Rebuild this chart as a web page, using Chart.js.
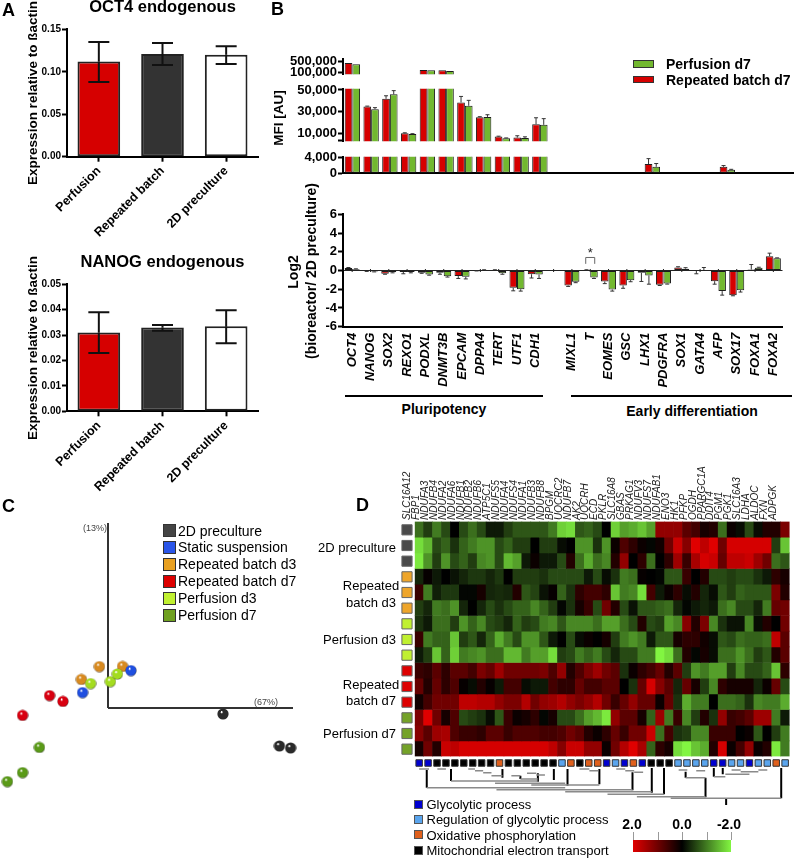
<!DOCTYPE html>
<html>
<head>
<meta charset="utf-8">
<script src="https://cdn.jsdelivr.net/npm/chart.js@4/dist/chart.umd.js"></script>
<style>
  html, body { margin: 0; background: #fff; }
  #page { position: relative; width: 795px; height: 859px; overflow: hidden; font-family: "Liberation Sans", Arial, sans-serif; color: #000; }
  #page canvas { position: absolute; }
  .txt { position: absolute; white-space: nowrap; line-height: 1; }
  .box { position: absolute; box-sizing: border-box; }
</style>
</head>
<body>
<div id="page"></div>
<script>
// panel A
const culture = ['Perfusion', 'Repeated batch', '2D preculture'];
const cultureFill = ['#d60000', '#333333', '#ffffff'];
const oct4 = [0.112, 0.121, 0.120];
const oct4Low = [0.088, 0.108, 0.109];
const oct4High = [0.135, 0.134, 0.130];
const nanog = [0.031, 0.033, 0.0335];
const nanogLow = [0.023, 0.0317, 0.0268];
const nanogHigh = [0.039, 0.034, 0.0398];

// panel B
const genes = ['OCT4', 'NANOG', 'SOX2', 'REXO1', 'PODXL', 'DNMT3B', 'EPCAM', 'DPPA4', 'TERT', 'UTF1', 'CDH1', '',
  'MIXL1', 'T', 'EOMES', 'GSC', 'LHX1', 'PDGFRA', 'SOX1', 'GATA4', 'AFP', 'SOX17', 'FOXA1', 'FOXA2'];
const mfiRed = [450000, 34900, 41900, 10200, 195000, 185000, 38500, 25000, 7200, 6300, 18600, null,
  0, 0, 0, 0, 2350, 0, 0, 0, 1650, 0, 0, 50];
const mfiGreen = [400000, 32400, 46000, 9600, 185000, 165000, 35500, 25300, 5800, 6000, 18000, null,
  0, 0, 0, 0, 1650, 0, 0, 0, 870, 0, 0, 20];
const mfiRedErr = [null, 35200, 44700, 10700, null, null, 44100, 25500, 7600, 8000, 24500, null,
  null, null, null, null, 3760, null, null, null, 1970, null, null, null];
const mfiGreenErr = [null, 33800, 49400, 9900, null, null, 40500, 27300, 6000, 7000, 23700, null,
  null, null, null, null, 2500, null, null, null, 1000, null, null, null];
const logRed = [0.28, -0.05, -0.35, -0.15, -0.25, -0.25, -0.6, -0.03, 0.05, -1.85, -0.4, null,
  -1.6, 0.05, -1.17, -1.6, -0.25, -1.53, 0.32, -0.05, -1.14, -2.63, 0.1, 1.53];
const logGreen = [0.14, -0.12, -0.2, -0.15, -0.43, -0.62, -0.68, 0.05, -0.3, -2, -0.43, null,
  -1.2, -0.75, -2.03, -1.03, -0.53, -1.4, 0.2, 0.05, -2.2, -2.1, 0.3, 1.32];
const logRedErr = [0.32, -0.1, -0.4, -0.35, -0.3, -0.4, -0.85, -0.05, 0.08, -2.17, -0.8, null,
  -1.7, 0.08, -1.4, -1.9, -1.17, -1.6, 0.4, -0.35, -1.46, -2.7, 0.64, 1.85];
const logGreenErr = [0.18, -0.15, -0.25, -0.25, -0.5, -0.7, -0.9, 0.08, -0.4, -2.2, -0.85, null,
  -1.3, -0.85, -2.2, -1.2, -1.46, -1.45, 0.3, 0.32, -2.63, -2.3, 0.35, 1.35];

// panel C, scores
const pcaGroups = ['2D preculture', 'Static suspension', 'Repeated batch d3', 'Repeated batch d7', 'Perfusion d3', 'Perfusion d7'];
const pcaColors = ['#444444', '#2a55e8', '#e8a020', '#dd0000', '#c0f030', '#6fa020'];
const pcaPreculture = [[57.5, -3], [85.7, -19], [91.3, -20]];
const pcaStatic = [[11.5, 18.7], [-12.7, 7.7]];
const pcaBatch3 = [[-4.3, 20.7], [7.3, 20.8], [-13.3, 14.3]];
const pcaBatch7 = [[-29.2, 6.2], [-22.5, 3.3], [-42.7, -3.7]];
const pcaPerf3 = [[-8.7, 12.2], [1.2, 13.2], [4.7, 17]];
const pcaPerf7 = [[-34.3, -19.7], [-42.7, -32.3], [-50.3, -36.8]];

// panel D
const heatGenes = ['SLC16A12', 'FBP1', 'NDUFA3', 'NDUFB4', 'NDUFA2', 'NDUFA6', 'NDUFB1', 'NDUFB2', 'NDUFB6', 'ATP5C1',
  'NDUFS5', 'NDUFA4', 'NDUFS4', 'NDUFA1', 'NDUFB3', 'NDUFB8', 'BPGM', 'UQCRC2', 'NDUFB7', 'AK2', 'UQCRH', 'ECD',
  'PKLR', 'SLC16A8', 'GBAS', 'PRKAG1', 'NDUFV3', 'NDUFS7', 'NDUFAB1', 'ENO3', 'HK1', 'PFKP', 'OGDH', 'PPARGC1A',
  'DDIT4', 'PGM1', 'PGK1', 'SLC16A3', 'LDHA', 'ALDOC', 'FXN', 'ADPGK'];
const heatRows = [
  [-.9,-.5,-1,-.6,0,-.6,-.9,-.6,-.2,-.2,-.5,-.7,-.7,-.7,-.7,-1,-1.7,-1.8,-.7,-.8,-.6,0,-1.7,-1.3,-1.4,-1.6,-1.3,1.3,1.3,1.3,.8,.6,.2,.3,-.9,.1,-.1,-.6,-.1,.3,.3,1.1],
  [-1.8,-1.5,-.6,-.8,-.4,-.8,-1,-1.2,-1.2,-.6,-.8,-.5,-.5,0,-.5,-.5,-.1,0,-1.2,-1.2,-.4,-1.2,.1,.7,.4,.1,-.05,.15,1,1.8,1.2,2,1.7,2,1,1.9,1.9,1.9,1.9,1.9,-.5,-1.6],
  [-1.9,-1.2,-.5,-1.2,-.6,-.8,-.5,-1.1,-1.2,-.6,-1.5,-1.3,-.2,.1,-.2,-.2,-.6,.3,-.9,-1.4,-.9,-1.1,.3,1.3,0,.4,-.9,0,.4,1.4,.5,1.5,1.9,1.8,.9,1.7,1.7,1.8,1.4,1,-.9,-.7],
  [-.3,.05,-.2,0,-.15,-.3,-.45,-.45,-.3,-.45,0,-.5,-.5,-.5,-.4,-.6,-.6,-.6,-.6,-.2,-.6,-.1,-.4,-1,-.9,.05,0,-.05,-.7,-.7,.5,0,.3,-.6,-.6,-.5,-.6,-.6,-.4,-.2,.4,.2],
  [.5,-1,-.25,-.45,-.45,-.05,-.05,.2,-.3,-.35,-.3,.3,-.7,-.55,-.15,.05,-.8,-.4,.4,.6,.6,.4,-1.6,-1,-1.1,-1.8,.6,-.2,.1,.4,-.1,.3,-.3,-.1,-.7,-.5,-.8,-.7,-.7,-.7,1.1,.3],
  [-.5,-.3,-1,-.9,-1.2,-.3,0,-.3,-.6,-.4,-.6,-.8,-.8,-1.1,-.8,-.5,-.05,-.4,.2,.5,-.6,1,.3,-.6,-.15,-.7,-.7,-.8,-.9,-.3,-.05,-.2,-.3,-.2,-.9,-1.1,-.6,-.6,-.3,-1,.9,1],
  [-.4,-.2,-.9,-.9,-.5,-1.2,-.8,-1.1,-.6,-.5,-.3,-.8,-.5,-.6,-1,-1.1,-.7,-1.1,-1.1,-1.1,-.9,-1.3,-1.3,-.9,-.6,.3,-.6,-.5,-1.3,-1.1,1.2,.3,1.1,-1.1,-.4,-.15,-.15,-1.1,-.1,.3,0,1],
  [.5,-1,-.8,-.8,-1.6,-.5,-.7,-.3,-.8,-1.4,-1,-.6,-1.2,-1.2,-.7,-.2,0,-.6,-.1,.1,0,.2,-.5,-1,-1.2,-1,-.2,-.7,-.7,.2,.4,.4,.15,-.1,-.7,-.6,-.9,-.8,-.8,-.9,1.7,.8],
  [-.2,-.5,-1.6,-.8,-1.7,-1,-1.1,-1.2,-.9,-.9,-1.5,-1.5,-1,-1.3,-1.3,-1.8,-.5,-.6,-1,-.8,-1,-.6,-.3,-.6,-.6,-1,-1,-2,-1.8,-.9,.3,-.05,.2,-.1,-.9,-.9,-1.2,-.9,-.5,-.7,.3,.8],
  [.5,.4,.8,.4,.8,.8,.6,1.1,.9,1.4,1,1,1,1,1.1,.7,1.3,.3,.7,1.1,1.4,1,.8,-.4,.1,.4,.6,.9,.3,.8,-.5,-1.2,-1,-1.3,-1.3,-.5,-1.1,-.6,-.6,-.8,-1.6,.4,0],
  [.9,.3,.9,.4,.7,.05,-.1,.3,.05,-.2,.6,.6,-.1,-.2,-.2,.6,.4,.4,.9,.6,.6,.8,.8,0,-.4,.9,1.9,1.2,.8,-.3,.9,.2,-.5,-1.1,.4,.2,.2,.2,-.3,.1,.9,-.6],
  [.15,.6,1,1,1,1.7,1.7,1.6,1.6,1.3,1.1,1.1,1.6,1,1.3,1.4,1.6,1.3,1.1,1.3,1.6,1,.5,.9,1.3,.9,.9,.1,.9,-.4,-1.4,-1,-1,0,-.9,-.9,-.8,-.4,-1.1,-1,-1,-1.4],
  [1.1,2,1,.2,.7,-.6,-.5,-.4,-.1,-.7,.5,.1,.2,.4,-.05,.2,-.6,-.6,-.9,-1.3,-1.5,-1.9,1.3,.8,.8,.2,-.8,1.4,-1,.5,-1.1,-.5,.3,-.4,1.3,.5,.6,.8,1.4,1.4,-1,-.2],
  [1.2,.8,1.4,1.5,.7,.5,.5,.4,.8,.8,.5,.7,.7,.7,.6,.6,.7,1,.8,.3,.1,.4,.9,.5,1,1,1.8,-.9,.6,-.4,-.5,-1.1,-1.1,.5,.5,.5,0,.1,-.7,0,-.5,-1],
  [.2,1,.3,1.8,1.7,1.9,1.9,1.9,1.9,1.9,1.9,1.9,1.9,1.9,1.9,1.7,1.2,1.8,1.8,1.3,1.3,.1,1,1.6,2,1.5,-.8,.4,.2,-1.8,-2,-1.6,-1.4,.3,1.9,.1,.6,1.3,.1,.3,-1.9,-1]
];
const rowGroupColors = ['#4a4a4a', '#4a4a4a', '#4a4a4a', '#eea52a', '#eea52a', '#eea52a', '#c0f030', '#c0f030', '#c0f030',
  '#dd0000', '#dd0000', '#dd0000', '#74a228', '#74a228', '#74a228'];
const processNames = ['Glycolytic process', 'Regulation of glycolytic process', 'Oxidative phosphorylation', 'Mitochondrial electron transport'];
const processColors = ['#0000d0', '#5aa5ee', '#e0601c', '#000000'];
// index into processColors for each gene
const geneProcess = [0,0,3,3,3,3,3,3,3,2,3,3,3,3,3,3,1,2,3,2,2,0,1,0,2,0,3,3,3,1,1,1,1,0,0,1,1,0,1,1,2,1];
// dendrogram: [column, from level, to level] and [from column, to column, level]
const treeStems = [[.85,15,32.7],[3.57,14,26],[9.33,14,22.7],[11.34,20.7,24],[13.3,18.3,26.7],[15.09,14,25],[16.62,14,30.7],
  [20.19,14,29.3],[23.9,17.3,35.3],[26.06,13,37.7],[27.43,13,39.3],[29.85,16.7,22.7],[32.08,22.7,42.3],[33.01,13,21.7],
  [34.01,13,19.3],[40.56,13,43.3],[34.39,43.3,50]];
const treeBars = [[0,1.1,14],[2.04,3,14],[5.5,6.25,14],[6.25,7.17,15.7],[7.17,8.1,17.7],[8.1,9.33,20.7],[10.33,11.34,20.7],
  [12.08,13.12,18.3],[13.12,14.09,20],[11.34,13.3,24],[3.57,13.3,26],[8.5,16.36,28.3],[12.56,20.19,30],[.85,16.36,32.7],
  [8.66,23.9,34.7],[16.36,26.06,36.7],[21.1,27.43,39.3],[24.39,32.08,41.7],[28.18,40.56,43.3],[17.96,19.07,14],
  [19.07,20.07,15.7],[22.08,23.09,14],[23.09,24.09,15.7],[24.09,25.09,17.3],[29.07,30.04,15],[31.04,32.04,15.7],
  [29.85,32.08,22.7],[33.01,34.3,21.7],[34.3,37,19.3],[35,36.02,15],[36.02,38,16.7],[38,39,15]];
const scaleTicks = [2, 0, -2];

Chart.defaults.animation = false;
Chart.defaults.font.family = '"Liberation Sans", Arial, sans-serif';
Chart.defaults.color = '#000';
Chart.defaults.plugins.legend.display = false;
Chart.defaults.plugins.tooltip.enabled = false;

const page = document.getElementById('page');

function canvasAt(left, top, width, height) {
  const c = document.createElement('canvas');
  c.width = width;
  c.height = height;
  c.style.left = left + 'px';
  c.style.top = top + 'px';
  c.style.width = width + 'px';
  c.style.height = height + 'px';
  page.appendChild(c);
  return c;
}

function label(text, x, y, css, anchor) {
  const d = document.createElement('div');
  d.className = 'txt';
  d.textContent = text;
  d.style.cssText = 'left:' + x + 'px;top:' + y + 'px;' + (css || '');
  const shift = anchor === 'left' ? '0' : anchor === 'right' ? '-100%' : '-50%';
  d.style.transform = 'translate(' + shift + ',-50%)' + (anchor === 'up' ? ' rotate(-90deg)' : '');
  page.appendChild(d);
}

function box(x, y, w, h, css) {
  const d = document.createElement('div');
  d.className = 'box';
  d.style.cssText = 'left:' + x + 'px;top:' + y + 'px;width:' + w + 'px;height:' + h + 'px;' + css;
  page.appendChild(d);
}

// whiskers from the bar value to the values in errEnds
const errorBars = {
  id: 'errorBars',
  afterDatasetsDraw(chart) {
    const ctx = chart.ctx, area = chart.chartArea;
    ctx.save();
    ctx.beginPath();
    ctx.rect(area.left - 15, area.top, area.right - area.left + 30, area.bottom - area.top);
    ctx.clip();
    chart.data.datasets.forEach((ds, i) => {
      if (!ds.errEnds) return;
      const yScale = chart.scales.y;
      chart.getDatasetMeta(i).data.forEach((bar, k) => {
        ds.errEnds.forEach(list => {
          const end = list[k];
          if (end === null || ds.data[k] === null) return;
          const y0 = yScale.getPixelForValue(ds.data[k]);
          const y1 = yScale.getPixelForValue(end);
          ctx.strokeStyle = ds.errColor;
          ctx.lineWidth = ds.errWidth;
          ctx.beginPath();
          ctx.moveTo(bar.x, y0);
          ctx.lineTo(bar.x, y1);
          ctx.moveTo(bar.x - ds.capWidth / 2, y1);
          ctx.lineTo(bar.x + ds.capWidth / 2, y1);
          ctx.stroke();
        });
      });
    });
    ctx.restore();
  }
};

// small ticks on the zero line and the significance bracket over T
const sigGene = 'T', sigTop = 1.39, sigFoot = 0.71, sigStar = 2.0;
const log2Extras = {
  id: 'log2Extras',
  afterDatasetsDraw(chart) {
    const ctx = chart.ctx, x = chart.scales.x, y = chart.scales.y;
    const zero = y.getPixelForValue(0);
    ctx.save();
    ctx.strokeStyle = '#222';
    ctx.lineWidth = 1;
    ctx.beginPath();
    genes.forEach((g, i) => {
      const px = x.getPixelForValue(i);
      ctx.moveTo(px, zero - 1.5);
      ctx.lineTo(px, zero + 1.5);
    });
    ctx.stroke();
    const centre = x.getPixelForValue(genes.indexOf(sigGene));
    ctx.strokeStyle = '#666';
    ctx.beginPath();
    ctx.moveTo(centre - 4.5, y.getPixelForValue(sigFoot));
    ctx.lineTo(centre - 4.5, y.getPixelForValue(sigTop));
    ctx.lineTo(centre + 4.5, y.getPixelForValue(sigTop));
    ctx.lineTo(centre + 4.5, y.getPixelForValue(sigFoot));
    ctx.stroke();
    ctx.fillStyle = '#222';
    ctx.font = '13px "Liberation Sans"';
    ctx.textAlign = 'center';
    ctx.textBaseline = 'middle';
    ctx.fillText('*', centre, y.getPixelForValue(sigStar) + 2);
    ctx.restore();
  }
};

function axisGrid(tick) {
  return { drawOnChartArea: false, drawTicks: true, tickLength: tick, tickWidth: 2, tickColor: '#000' };
}

// panel A, one bar chart
function expressionChart(title, top, plotTop, plotBottom, height, titlePadTop, values, low, high, maxY, stepY) {
  new Chart(canvasAt(0, top, 262, height), {
    type: 'bar',
    data: {
      labels: culture,
      datasets: [{
        data: values,
        backgroundColor: cultureFill,
        borderColor: '#222',
        borderWidth: 2,
        borderSkipped: false,
        barPercentage: 0.67,
        categoryPercentage: 1,
        errEnds: [low, high],
        errColor: '#111',
        errWidth: 2,
        capWidth: 21
      }]
    },
    options: {
      responsive: false,
      layout: { autoPadding: false, padding: { right: 4 } },
      plugins: {
        title: {
          display: true, text: title, fullSize: false,
          font: { size: 16.5, weight: 'bold' },
          padding: { top: titlePadTop, bottom: plotTop - titlePadTop - 19.8 }
        }
      },
      scales: {
        x: {
          afterFit(a) { a.height = height - plotBottom; },
          border: { color: '#000', width: 2 },
          grid: Object.assign(axisGrid(5), { offset: false }),
          ticks: { minRotation: 45, maxRotation: 45, padding: 2, font: { size: 12.5, weight: 'bold' } }
        },
        y: {
          min: 0, max: maxY,
          afterFit(a) { a.width = 67; },
          border: { color: '#000', width: 2 },
          grid: axisGrid(5),
          ticks: { stepSize: stepY, padding: 1, font: { size: 10, weight: 'bold' }, callback: v => v.toFixed(2) }
        }
      }
    },
    plugins: [errorBars]
  });
}
expressionChart('OCT4 endogenous', -2, 31.3, 158.7, 242, 0, oct4, oct4Low, oct4High, 0.15, 0.05);
expressionChart('NANOG endogenous', 240, 44.3, 171.3, 262, 12.8, nanog, nanogLow, nanogHigh, 0.05, 0.01);
const axisTitle = 'font:bold 13.5px "Liberation Sans"';
label('Expression relative to ßactin', 32, 93, axisTitle, 'up');
label('Expression relative to ßactin', 32, 348, axisTitle, 'up');

function geneDatasets(red, green, redErr, greenErr) {
  const base = { barPercentage: 1, categoryPercentage: 0.82, borderColor: '#1c1c1c', borderWidth: 1, borderSkipped: false, errColor: '#333', errWidth: 1, capWidth: 4 };
  return [
    Object.assign({ data: red, backgroundColor: '#d60000', errEnds: [redErr] }, base),
    Object.assign({ data: green, backgroundColor: '#72b82f', errEnds: [greenErr] }, base)
  ];
}

// panel B, broken MFI axis made of three stacked pieces
function mfiPiece(top, height, plotTop, plotBottom, minY, maxY, tickValues, opts) {
  opts = opts || {};
  const inRange = list => list.map(v => (v !== null && v >= minY ? v : null));
  new Chart(canvasAt(262, top, 533, height), {
    type: 'bar',
    data: { labels: genes, datasets: geneDatasets(inRange(mfiRed), inRange(mfiGreen), mfiRedErr, mfiGreenErr) },
    options: {
      responsive: false,
      layout: { autoPadding: false, padding: { top: plotTop - top, bottom: opts.axis ? 0 : top + height - plotBottom, right: 2 } },
      scales: {
        x: opts.axis ? {
          afterFit(a) { a.height = top + height - plotBottom; },
          border: { color: '#000', width: 2 },
          grid: { display: false },
          ticks: { display: false }
        } : { display: false },
        y: {
          min: minY, max: maxY,
          afterFit(a) { a.width = 81; },
          afterBuildTicks(a) { a.ticks = tickValues.map(value => ({ value })); },
          border: { color: '#000', width: 2 },
          grid: axisGrid(5),
          ticks: {
            autoSkip: false,
            padding: 1,
            font: { size: 13, weight: 'bold' },
            callback: v => (opts.hidden && opts.hidden.includes(v) ? '' : v.toLocaleString('en-US'))
          }
        }
      }
    },
    plugins: [errorBars]
  });
}
mfiPiece(50, 33, 58, 75.3, 49600, 594500, [500000, 100000]);
mfiPiece(80, 70, 86.7, 144.3, 3000, 51100, [50000, 30000, 10000, 4000], { hidden: [4000] });
mfiPiece(148, 34, 155.7, 173.7, 0, 4235, [4000, 0], { axis: true });
label('MFI [AU]', 278, 118, 'font:bold 13.5px "Liberation Sans"', 'up');

// panel B, log2 ratios
new Chart(canvasAt(262, 205, 533, 190), {
  type: 'bar',
  data: { labels: genes, datasets: geneDatasets(logRed, logGreen, logRedErr, logGreenErr) },
  options: {
    responsive: false,
    layout: { autoPadding: false, padding: { top: 9.3, right: 2 } },
    scales: {
      x: {
        afterFit(a) { a.height = 68.3; },
        border: { color: '#000', width: 2 },
        grid: { display: false, drawTicks: false },
        ticks: { autoSkip: false, minRotation: 90, maxRotation: 90, padding: 6, font: { size: 13, weight: 'bold', style: 'italic' } }
      },
      y: {
        min: -6, max: 6,
        afterFit(a) { a.width = 81; },
        border: { color: '#000', width: 2 },
        grid: {
          drawTicks: true, tickLength: 5, tickWidth: 2, tickColor: '#000',
          color: c => (c.tick.value === 0 ? '#222' : 'transparent')
        },
        ticks: { stepSize: 2, padding: 1, font: { size: 13, weight: 'bold' } }
      }
    }
  },
  plugins: [errorBars, log2Extras]
});
label('Log2', 293, 272, 'font:bold 14px "Liberation Sans"', 'up');
label('(bioreactor/ 2D preculture)', 311, 271, 'font:bold 14px "Liberation Sans"', 'up');

// panel B, legend and group lines
box(633, 60, 21, 8, 'background:#72b82f;border:1px solid #333');
box(633, 76, 21, 7, 'background:#d60000;border:1px solid #333');
label('Perfusion d7', 666, 64, 'font:bold 14px "Liberation Sans"', 'left');
label('Repeated batch d7', 666, 80, 'font:bold 14px "Liberation Sans"', 'left');
box(345, 394.7, 198, 2, 'background:#000');
box(571, 394.7, 221, 2, 'background:#000');
label('Pluripotency', 444, 409, 'font:bold 14px "Liberation Sans"');
label('Early differentiation', 692, 411, 'font:bold 14px "Liberation Sans"');

// shaded ball used as the point marker in panel C
function sphere(color) {
  const c = document.createElement('canvas');
  c.width = 12;
  c.height = 12;
  const g = c.getContext('2d');
  const grad = g.createRadialGradient(4.5, 4, 0.5, 6, 6, 6);
  grad.addColorStop(0, '#ffffff');
  grad.addColorStop(0.18, color);
  grad.addColorStop(0.8, color);
  grad.addColorStop(1, '#222');
  g.fillStyle = grad;
  g.beginPath();
  g.arc(6, 6, 5.6, 0, Math.PI * 2);
  g.fill();
  return c;
}

function pcaSet(points, color) {
  return { type: 'scatter', data: points.map(p => ({ x: p[0], y: p[1] })), pointStyle: sphere(color), pointRadius: 6 };
}
function pcaAxis(x, y) {
  return { type: 'line', data: [{ x: 0, y: 0 }, { x, y }], borderColor: '#333', borderWidth: 2, pointRadius: 0 };
}

new Chart(canvasAt(0, 515, 300, 300), {
  data: {
    datasets: [
      pcaSet(pcaStatic, '#1f4fe0'),
      pcaSet(pcaPerf3, '#a4dc20'),
      pcaSet(pcaBatch3, '#d88a20'),
      pcaSet(pcaBatch7, '#d80010'),
      pcaSet(pcaPerf7, '#5a9a18'),
      pcaSet(pcaPreculture, '#2a2a2a'),
      pcaAxis(0, 92.5),
      pcaAxis(92.5, 0)
    ]
  },
  options: {
    responsive: false,
    layout: { autoPadding: false },
    scales: {
      x: { type: 'linear', display: false, min: -54, max: 96 },
      y: { type: 'linear', display: false, min: -53.5, max: 96.5 }
    }
  }
});
label('(13%)', 95, 528, 'font:9px "Liberation Sans";color:#444');
label('(67%)', 266, 702, 'font:9px "Liberation Sans";color:#444');
pcaGroups.forEach((name, i) => {
  const y = 530.5 + i * 16.9;
  box(163, y - 6.5, 13, 13, 'background:' + pcaColors[i] + ';border:1px solid #333');
  label(name, 178, y, 'font:14px "Liberation Sans"', 'left');
});

// panel D, heat map as stacked unit bars, one dataset per row
function heatColor(v) {
  if (v >= 0) return 'rgb(' + Math.round(112 * v) + ',0,0)';
  const t = -v / 2;
  return 'rgb(' + Math.round(130 * t) + ',' + Math.round(245 * t) + ',' + Math.round(65 * t) + ')';
}

new Chart(canvasAt(400, 460, 395, 300), {
  type: 'bar',
  data: {
    labels: heatGenes,
    datasets: heatRows.map(row => ({
      data: row.map(() => 1),
      backgroundColor: row.map(heatColor),
      barPercentage: 1,
      categoryPercentage: 1
    }))
  },
  options: {
    responsive: false,
    layout: { autoPadding: false, padding: { left: 14.7, right: 5.4, bottom: 3.5 } },
    scales: {
      x: {
        position: 'top',
        stacked: true,
        afterFit(a) { a.height = 61.5; },
        border: { display: false },
        grid: { display: false, drawTicks: false },
        ticks: { autoSkip: false, minRotation: 90, maxRotation: 90, padding: 1.5, font: { size: 10, style: 'italic' }, color: '#222' }
      },
      y: { stacked: true, reverse: true, display: false, min: 0, max: 15 }
    }
  }
});

// row colour keys left of the map
new Chart(canvasAt(399, 521.5, 16, 235), {
  type: 'scatter',
  data: {
    datasets: [{
      data: rowGroupColors.map((c, i) => ({ x: 0, y: i + 0.5 })),
      pointStyle: 'rect',
      pointRadius: 7.2,
      pointBackgroundColor: rowGroupColors,
      pointBorderColor: '#666',
      pointBorderWidth: 1
    }]
  },
  options: {
    responsive: false,
    layout: { autoPadding: false },
    scales: {
      x: { type: 'linear', display: false, min: -1, max: 1 },
      y: { type: 'linear', display: false, reverse: true, min: 0, max: 15 }
    }
  }
});

// process keys and dendrogram below the map
const treeSets = [];
treeBars.forEach(b => treeSets.push({
  type: 'line', data: [{ x: b[0], y: b[2] }, { x: b[1], y: b[2] }], borderColor: '#8a8a8a', borderWidth: 1.6, pointRadius: 0
}));
treeStems.forEach(s => treeSets.push({
  type: 'line', data: [{ x: s[0], y: s[1] }, { x: s[0], y: s[2] }], borderColor: '#000', borderWidth: 2, pointRadius: 0
}));
new Chart(canvasAt(400, 755, 395, 52), {
  data: {
    datasets: [{
      type: 'scatter',
      data: heatGenes.map((g, i) => ({ x: i, y: 8 })),
      pointStyle: 'rect',
      pointRadius: 4.6,
      pointBackgroundColor: geneProcess.map(p => processColors[p]),
      pointBorderColor: '#333',
      pointBorderWidth: 1
    }].concat(treeSets)
  },
  options: {
    responsive: false,
    layout: { autoPadding: false, padding: { left: 14.7, right: 5.4 } },
    scales: {
      x: { type: 'linear', display: false, min: -0.5, max: 41.5 },
      y: { type: 'linear', display: false, reverse: true, min: 0, max: 52 }
    }
  }
});

// panel D text and keys
const rowCss = 'font:13px "Liberation Sans"';
label('2D preculture', 396, 547, rowCss, 'right');
label('Repeated', 371, 585, rowCss);
label('batch d3', 371, 602, rowCss);
label('Perfusion d3', 396, 639, rowCss, 'right');
label('Repeated', 371, 684, rowCss);
label('batch d7', 371, 700, rowCss);
label('Perfusion d7', 396, 733, rowCss, 'right');
processNames.forEach((name, i) => {
  const y = 804 + i * 15.4;
  box(414, y - 4.5, 9, 9, 'background:' + processColors[i] + ';border:1px solid #555');
  label(name, 426.5, y, 'font:13px "Liberation Sans"', 'left');
});

// colour key of the heat map
box(633, 840, 98, 12, 'background:linear-gradient(to right,' + [2, 1, 0, -1, -2].map(heatColor).join(',') + ')');
[2, 1, 0, -1, -2].forEach((v, i) => box(633 + i * 24.5, 832, 1, 8, 'background:#999'));
scaleTicks.forEach((v, i) => {
  label(v.toFixed(1), [632, 682, 729][i], 824, 'font:bold 14px "Liberation Sans"');
});

// panel letters
const letterCss = 'font:bold 18px "Liberation Sans"';
label('A', 2, 10, letterCss, 'left');
label('B', 271, 9, letterCss, 'left');
label('C', 2, 506, letterCss, 'left');
label('D', 356, 505, letterCss, 'left');
</script>
</body>
</html>
